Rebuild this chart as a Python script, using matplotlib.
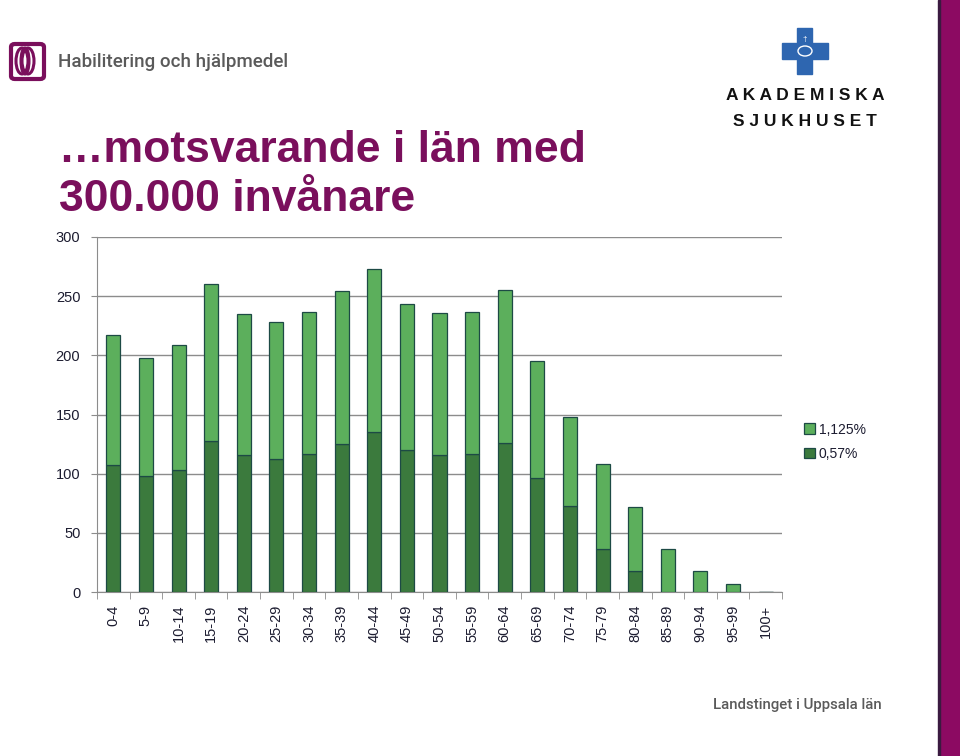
import matplotlib
matplotlib.use("Agg")
import matplotlib.pyplot as plt
from matplotlib.patches import Rectangle, FancyBboxPatch, Ellipse
import numpy as np

categories = ["0-4", "5-9", "10-14", "15-19", "20-24", "25-29", "30-34", "35-39",
              "40-44", "45-49", "50-54", "55-59", "60-64", "65-69", "70-74", "75-79",
              "80-84", "85-89", "90-94", "95-99", "100+"]
dark_vals = [107, 98, 103, 128, 116, 112, 117, 125, 135, 120, 116, 117, 126, 96, 73, 36, 18, 0, 0, 0, 0]
total_vals = [217, 198, 209, 260, 235, 228, 237, 254, 273, 243, 236, 237, 255, 195, 148, 108, 72, 36, 18, 7, 0]
light_vals = [t - d for t, d in zip(total_vals, dark_vals)]
series_names = ["1,125%", "0,57%"]
yticks = [0, 50, 100, 150, 200, 250, 300]

LIGHT = "#5caf5c"
DARK = "#3b7a3d"
EDGE = "#1d4a45"
PURPLE = "#7a0f5c"
TXT = "#1c1c30"

plt.rcParams['font.family'] = ['Liberation Sans', 'DejaVu Sans']
COND = ['Roboto', 'DejaVu Sans']

fig = plt.figure(figsize=(9.6, 7.56), dpi=100)
W, H = 960, 756

def fx(x):
    return x / W

def fy(y):
    return 1 - y / H

ax = fig.add_axes([fx(97), fy(592), fx(782) - fx(97), fy(237) - fy(592)])
x = np.arange(len(categories))
bw = 0.43
ax.bar(x, dark_vals, bw, color=DARK, edgecolor=EDGE, linewidth=0.9, label=series_names[1], zorder=3)
ax.bar(x, light_vals, bw, bottom=dark_vals, color=LIGHT, edgecolor=EDGE, linewidth=0.9,
       label=series_names[0], zorder=3)
ax.set_xlim(-0.5, len(categories) - 0.5)
ax.set_ylim(0, 300)
ax.set_yticks(yticks)
ax.set_yticklabels([str(v) for v in yticks], fontsize=10.5, color=TXT)
ax.yaxis.grid(True, color="#8c8c8c", linewidth=1.0, zorder=0)
ax.set_axisbelow(True)
ax.set_xticks(x)
ax.set_xticklabels(categories, rotation=90, fontsize=10.5, color=TXT)
ax.set_xticks(np.arange(-0.5, len(categories) + 0.5, 1), minor=True)
ax.tick_params(axis='x', which='major', length=0, pad=9)
ax.tick_params(axis='x', which='minor', length=5, color="#8c8c8c", direction='out')
ax.tick_params(axis='y', length=4, color="#8c8c8c", pad=8)
for s in ["top", "right"]:
    ax.spines[s].set_visible(False)
ax.spines["left"].set_color("#8c8c8c")
ax.spines["bottom"].set_color("#8c8c8c")

h, l = ax.get_legend_handles_labels()
leg = fig.legend(h[::-1], l[::-1], loc="upper left", bbox_to_anchor=(fx(791), fy(410)),
                 frameon=False, fontsize=10, handlelength=0.8, handleheight=0.8,
                 handletextpad=0.3, labelspacing=0.75, labelcolor=TXT)

# Title
fig.text(fx(59), fy(175), "\u2026motsvarande i län med\n300.000 invånare", fontsize=32,
         fontweight='bold', color=PURPLE, ha='left', va='center', linespacing=1.24)

# Habilitering logo
fig.patches.append(FancyBboxPatch((fx(11), fy(79)), fx(33), fy(44) - fy(79),
                                  boxstyle="round,pad=0,rounding_size=0.004",
                                  transform=fig.transFigure, fill=False,
                                  edgecolor=PURPLE, linewidth=3))
for cx, w in [(22, 12), (28, 12), (25, 8)]:
    fig.patches.append(Ellipse((fx(cx), fy(61)), fx(w), fy(48) - fy(74),
                               transform=fig.transFigure, fill=False,
                               edgecolor=PURPLE, linewidth=2.2))
fig.text(fx(58), fy(62), "Habilitering och hjälpmedel", fontsize=13.5, color="#5a5a5a",
         ha='left', va='center', family=COND, fontweight='medium')

# Akademiska logo (blue cross)
BLUE = "#2e66b0"
fig.patches.append(Rectangle((fx(797), fy(74)), fx(15), fy(28) - fy(74),
                             transform=fig.transFigure, color=BLUE))
fig.patches.append(Rectangle((fx(782), fy(59)), fx(46), fy(43) - fy(59),
                             transform=fig.transFigure, color=BLUE))
fig.patches.append(Ellipse((fx(805), fy(51)), fx(14), fy(46) - fy(56),
                           transform=fig.transFigure, fill=False, edgecolor='white', linewidth=1))
fig.text(fx(805), fy(40), "\u2020", fontsize=6, color='white', ha='center', va='center')
fig.text(fx(805), fy(95), "A K A D E M I S K A", fontsize=12.5, fontweight='bold',
         color='#111111', ha='center', va='center')
fig.text(fx(805), fy(121), "S J U K H U S E T", fontsize=12.5, fontweight='bold',
         color='#111111', ha='center', va='center')

# Footer
fig.text(fx(797), fy(705), "Landstinget i Uppsala län", fontsize=10.8, color="#5a5a5a",
         ha='center', va='center', family=COND, fontweight='medium')

# Purple band
fig.patches.append(Rectangle((fx(939), 0), fx(21), 1, transform=fig.transFigure,
                             color="#8c0a62", zorder=5))
fig.patches.append(Rectangle((fx(938), 0), fx(1.5), 1, transform=fig.transFigure,
                             color="#3a1a40", zorder=5))

fig.savefig("out.png", dpi=100)
